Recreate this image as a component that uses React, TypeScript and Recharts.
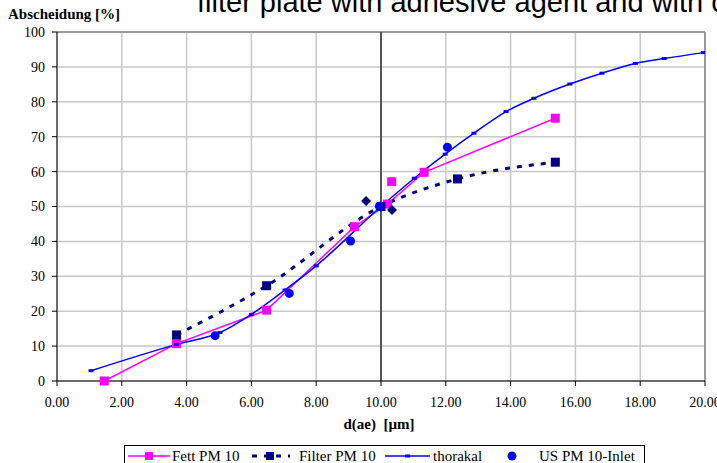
import { CartesianGrid, ComposedChart, Line, ReferenceLine, Scatter, XAxis, YAxis } from "recharts";

const xTicks = [0, 2, 4, 6, 8, 10, 12, 14, 16, 18, 20];
const yTicks = [0, 10, 20, 30, 40, 50, 60, 70, 80, 90, 100];

// Fett PM 10
const fettX = [1.46, 3.69, 6.47, 9.18, 10.2, 11.33, 15.38];
const fettY = [0, 10.7, 20.3, 44.2, 50.7, 59.8, 75.3];
const fettLooseX = [10.33];
const fettLooseY = [57.1];

// Filter PM 10
const filterX = [3.69, 6.47, 10.0, 12.36, 15.38];
const filterY = [13.2, 27.3, 50.0, 57.9, 62.7];
const filterLooseX = [9.54, 10.34];
const filterLooseY = [51.6, 49.0];

// thorakal
const thorX = [1.05, 3.69, 5.03, 6.0, 7.04, 8.0, 10.0, 11.03, 11.98, 12.87, 13.86, 14.72, 15.83, 16.82, 17.85, 18.74, 19.95];
const thorY = [2.95, 10.5, 13.9, 19.1, 26.1, 33.0, 50.0, 58.1, 65.0, 71.0, 77.2, 81.0, 85.1, 88.2, 91.0, 92.4, 94.1];

// US PM 10-Inlet
const usX = [4.88, 7.17, 9.06, 9.95, 12.05];
const usY = [13.0, 25.1, 40.1, 50.1, 67.0];

const toPoints = (xs: number[], ys: number[]) => xs.map((x, i) => ({ x, y: ys[i] }));

const fettData = toPoints(fettX, fettY);
const fettLoose = toPoints(fettLooseX, fettLooseY);
const filterData = toPoints(filterX, filterY);
const filterLoose = toPoints(filterLooseX, filterLooseY);
const thorData = toPoints(thorX, thorY);
const usData = toPoints(usX, usY);

const theme = {
  fett: "#FF00FF",
  filter: "#000080",
  thor: "#0000FF",
  us: "#0000FF",
  grid: "#c8c8c8",
  border: "#9a9a9a",
  axis: "#000000",
  serif: "Liberation Serif, Times New Roman, serif",
  sans: "Liberation Sans, Arial, sans-serif",
} as const;

const tickStyle = { fill: "#000", fontSize: 14, style: { fontFamily: theme.serif } };

function squareDot(color: string, size: number, tag: string) {
  return (p: any) => (
    <rect
      key={`${tag}-${p.index}`}
      x={p.cx - size / 2}
      y={p.cy - size / 2}
      width={size}
      height={size}
      fill={color}
      stroke="none"
    />
  );
}

function thorDot(p: any) {
  return <rect key={`thor-${p.index}`} x={p.cx - 2.5} y={p.cy - 1.5} width={5} height={3} fill={theme.thor} />;
}

function circleShape(p: any) {
  return <circle cx={p.cx} cy={p.cy} r={4.5} fill={theme.us} />;
}

function diamondShape(p: any) {
  const s = 5;
  return <path d={`M${p.cx},${p.cy - s}L${p.cx + s},${p.cy}L${p.cx},${p.cy + s}L${p.cx - s},${p.cy}Z`} fill={theme.filter} />;
}

function fettSquare(p: any) {
  return <rect x={p.cx - 4.5} y={p.cy - 4.5} width={9} height={9} fill={theme.fett} />;
}

function Overlay() {
  const serif = { fontFamily: theme.serif };
  return (
    <svg width={717} height={463} style={{ position: "absolute", left: 0, top: 0, pointerEvents: "none" }}>
      <text x={197} y={12} style={{ fontFamily: theme.sans }} fontSize={29} fill="#000">
        filter plate with adhesive agent and with cyclone
      </text>
      <text x={8} y={19} style={serif} fontSize={15} fontWeight="bold" fill="#000">
        Abscheidung [%]
      </text>
      <text x={379} y={429} textAnchor="middle" style={{ ...serif, whiteSpace: "pre" }} fontSize={15} fontWeight="bold" fill="#000">
        {"d(ae)  [µm]"}
      </text>

      <rect x={124.5} y={445.5} width={520} height={30} fill="none" stroke="#000" strokeWidth={1} />
      <g style={serif} fontSize={15} fill="#000">
        <line x1={128} y1={456} x2={170} y2={456} stroke={theme.fett} strokeWidth={1.5} />
        <rect x={145} y={452} width={8} height={8} fill={theme.fett} />
        <text x={172} y={461}>Fett PM 10</text>

        <line x1={252} y1={456} x2={290} y2={456} stroke={theme.filter} strokeWidth={3} strokeDasharray="5 7" />
        <rect x={266} y={452} width={8} height={8} fill={theme.filter} />
        <text x={299} y={461}>Filter PM 10</text>

        <line x1={385} y1={456} x2={430} y2={456} stroke={theme.thor} strokeWidth={1.5} />
        <rect x={405} y={454.5} width={5} height={3} fill={theme.thor} />
        <text x={433} y={461}>thorakal</text>

        <circle cx={512} cy={456} r={4.5} fill={theme.us} />
        <text x={539} y={461}>US PM 10-Inlet</text>
      </g>
    </svg>
  );
}

export default function App() {
  return (
    <div style={{ position: "absolute", left: 0, top: 0, width: 717, height: 463, overflow: "hidden", background: "#fff" }}>
      <ComposedChart width={717} height={463} margin={{ top: 32, right: 12, bottom: 52, left: 7 }}>
        <CartesianGrid stroke={theme.grid} strokeWidth={1.5} />
        <XAxis
          type="number"
          dataKey="x"
          domain={[0, 20]}
          ticks={xTicks}
          interval={0}
          tickFormatter={(v: number) => v.toFixed(2)}
          height={30}
          tick={tickStyle}
          tickSize={5}
          tickMargin={11}
          axisLine={{ stroke: theme.axis }}
          tickLine={{ stroke: theme.axis }}
          allowDataOverflow
        />
        <YAxis
          type="number"
          dataKey="y"
          domain={[0, 100]}
          ticks={yTicks}
          interval={0}
          width={50}
          tick={tickStyle}
          tickSize={5}
          tickMargin={7}
          axisLine={{ stroke: theme.axis }}
          tickLine={{ stroke: theme.axis }}
        />
        <ReferenceLine y={100} stroke={theme.border} strokeWidth={2} />
        <ReferenceLine x={20} stroke={theme.border} strokeWidth={2} />
        <ReferenceLine x={10} stroke="#000" strokeWidth={1.2} />

        <Line
          data={fettData}
          dataKey="y"
          type="linear"
          stroke={theme.fett}
          strokeWidth={1.5}
          dot={squareDot(theme.fett, 9, "fett")}
          activeDot={false}
          isAnimationActive={false}
        />
        <Scatter data={fettLoose} dataKey="y" shape={fettSquare} isAnimationActive={false} />

        <Line
          data={filterData}
          dataKey="y"
          type="monotone"
          stroke={theme.filter}
          strokeWidth={3}
          strokeDasharray="5 7"
          dot={squareDot(theme.filter, 9, "filter")}
          activeDot={false}
          isAnimationActive={false}
        />
        <Scatter data={filterLoose} dataKey="y" shape={diamondShape} isAnimationActive={false} />

        <Line
          data={thorData}
          dataKey="y"
          type="monotone"
          stroke={theme.thor}
          strokeWidth={1.5}
          dot={thorDot}
          activeDot={false}
          isAnimationActive={false}
        />

        <Scatter data={usData} dataKey="y" shape={circleShape} isAnimationActive={false} />
      </ComposedChart>
      <Overlay />
    </div>
  );
}
